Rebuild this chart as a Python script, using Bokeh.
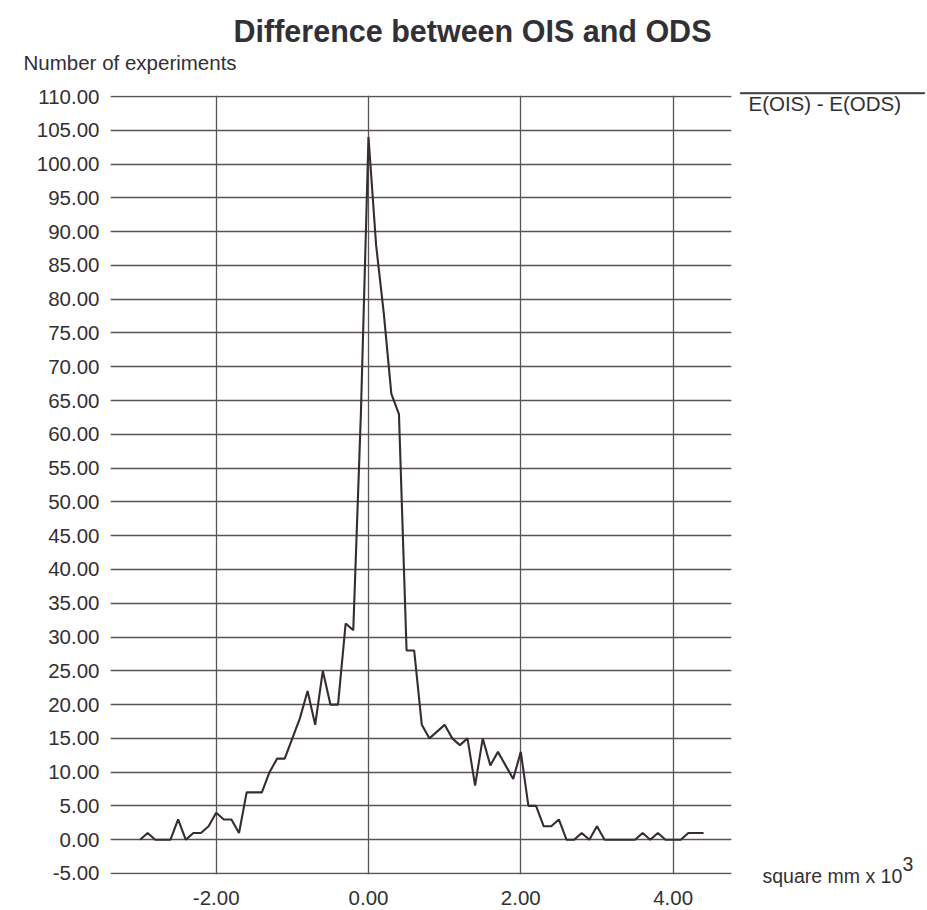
from bokeh.plotting import figure
from bokeh.models import FixedTicker, NumeralTickFormatter, Label, Range1d
from bokeh.embed import file_html
from bokeh.resources import INLINE

# ---- data ----
x_vals = [-3.0, -2.9, -2.8, -2.7, -2.6, -2.5, -2.4, -2.3, -2.2, -2.1,
          -2.0, -1.9, -1.8, -1.7, -1.6, -1.5, -1.4, -1.3, -1.2, -1.1,
          -1.0, -0.9, -0.8, -0.7, -0.6, -0.5, -0.4, -0.3, -0.2, -0.1,
          0.0, 0.1, 0.2, 0.3, 0.4, 0.5, 0.6, 0.7, 0.8, 0.9,
          1.0, 1.1, 1.2, 1.3, 1.4, 1.5, 1.6, 1.7, 1.8, 1.9,
          2.0, 2.1, 2.2, 2.3, 2.4, 2.5, 2.6, 2.7, 2.8, 2.9,
          3.0, 3.1, 3.2, 3.3, 3.4, 3.5, 3.6, 3.7, 3.8, 3.9,
          4.0, 4.1, 4.2, 4.3, 4.4]
counts = [0, 1, 0, 0, 0, 3, 0, 1, 1, 2,
          4, 3, 3, 1, 7, 7, 7, 10, 12, 12,
          15, 18, 22, 17, 25, 20, 20, 32, 31, 63,
          104, 88, 78, 66, 63, 28, 28, 17, 15, 16,
          17, 15, 14, 15, 8, 15, 11, 13, 11, 9,
          13, 5, 5, 2, 2, 3, 0, 0, 1, 0,
          2, 0, 0, 0, 0, 0, 1, 0, 1, 0,
          0, 0, 1, 1, 1]
x_ticks = [-2.0, 0.0, 2.0, 4.0]
y_ticks = [-5, 0, 5, 10, 15, 20, 25, 30, 35, 40, 45, 50, 55, 60, 65, 70, 75,
           80, 85, 90, 95, 100, 105, 110]
title_text = "Difference between OIS and ODS"
y_title = "Number of experiments"
x_title = "square mm x 10"
x_title_exp = "3"
series_name = "E(OIS) - E(ODS)"

FONT = "Liberation Sans"
TXT = "#333035"
GRID = "#5a5259"
LINE = "#352d33"

p = figure(output_backend="svg", toolbar_location=None,
           frame_width=621, frame_height=779,
           min_border_left=110, min_border_right=190,
           min_border_top=95, min_border_bottom=32,
           x_range=Range1d(-3.388, 4.767), y_range=Range1d(-5.15, 110.15),
           background_fill_color="white", border_fill_color="white",
           outline_line_color=None)

r = p.line(x_vals, counts, line_color=LINE, line_width=2.1)

for ax in (p.xaxis[0], p.yaxis[0]):
    ax.axis_line_color = None
    ax.major_tick_line_color = None
    ax.minor_tick_line_color = None
    ax.major_tick_out = 0
    ax.major_tick_in = 0
    ax.major_label_text_font = FONT
    ax.major_label_text_font_size = "20.5px"
    ax.major_label_text_color = TXT
    ax.formatter = NumeralTickFormatter(format="0.00")

p.xaxis.ticker = FixedTicker(ticks=x_ticks)
p.yaxis.ticker = FixedTicker(ticks=y_ticks)
p.xaxis.major_label_standoff = 16
p.yaxis.major_label_standoff = 11

p.xgrid.ticker = FixedTicker(ticks=x_ticks)
p.ygrid.ticker = FixedTicker(ticks=y_ticks)
for g in (p.xgrid[0], p.ygrid[0]):
    g.grid_line_color = GRID
    g.grid_line_width = 1.3

# texts outside the frame live in the side panels
p.add_layout(Label(x=1.366, y=119.66, text=title_text, text_align="center",
                   text_baseline="alphabetic", text_font=FONT, text_font_style="bold",
                   text_font_size="30.5px", text_color=TXT), "above")
p.add_layout(Label(x=-4.530, y=115.04, text=y_title, text_align="left",
                   text_baseline="alphabetic", text_font=FONT,
                   text_font_size="20.5px", text_color=TXT), "above")
p.add_layout(Label(x=5.174, y=-5.44, text=x_title, text_align="left",
                   text_baseline="alphabetic", text_font=FONT,
                   text_font_size="19.5px", text_color=TXT), "right")
p.add_layout(Label(x=7.013, y=-3.56, text=x_title_exp, text_align="left",
                   text_baseline="alphabetic", text_font=FONT,
                   text_font_size="19.5px", text_color=TXT), "right")

# legend: a thin filled bar (line sample) above the series name
p.add_layout(Label(x=6.093, y=110.49, text=" ", text_align="center",
                   text_baseline="middle", text_font=FONT, text_font_size="1px",
                   padding=(92, 0), background_fill_color=LINE,
                   border_line_color=LINE, border_line_width=0.8), "right")
p.add_layout(Label(x=4.99, y=108.96, text=series_name, text_align="left",
                   text_baseline="middle", text_font=FONT,
                   text_font_size="20.5px", text_color=TXT), "right")

open("out.html", "w").write(file_html(p, INLINE))
